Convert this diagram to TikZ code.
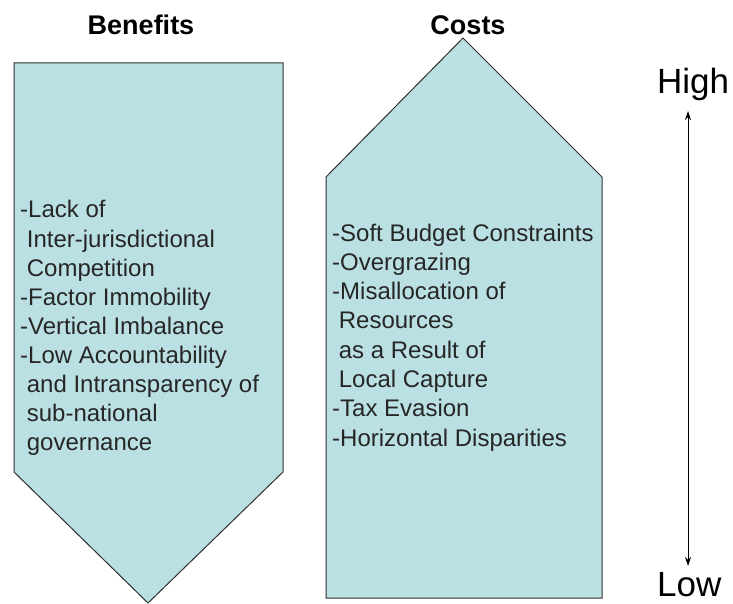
\documentclass[tikz,border=0pt]{standalone}
\usepackage{fontspec}
\setmainfont{Liberation Sans}
\usetikzlibrary{arrows.meta}
\definecolor{boxfill}{HTML}{BBE0E3}
\definecolor{boxline}{HTML}{303030}
\tikzset{
  panel/.style={fill=boxfill, draw=boxline, line width=1pt, line join=miter},
  title/.style={font=\fontsize{27}{32}\selectfont\bfseries, inner sep=0pt, anchor=base},
  item/.style={font=\fontsize{24}{29}\selectfont, inner sep=0pt, anchor=base west, text=black!85},
  scale label/.style={font=\fontsize{35}{40}\selectfont, inner sep=0pt, anchor=base west},
  scale arrow/.style={line width=1pt, {Stealth[length=9pt,width=6pt]}-{Stealth[length=9pt,width=6pt]}}
}
\begin{document}
\begin{tikzpicture}[x=1pt,y=-1pt]
\useasboundingbox[fill=white] (0,0) rectangle (733,604);
% Benefits panel (arrow pointing down)
\draw[panel] (14,63) -- (283,63) -- (283,472) -- (148,603) -- (14,472) -- cycle;
% Costs panel (arrow pointing up)
\draw[panel] (463,38) -- (602,177) -- (602,598) -- (326,598) -- (326,177) -- cycle;
% titles
\node[title] (tben) at (141,35) {Benefits};
\node[title] (tcost) at (468,35) {Costs};
% Benefits items
\foreach \t [count=\i from 0] in {-Lack of,\hspace*{0.278em}Inter-jurisdictional,\hspace*{0.278em}Competition,-Factor Immobility,-Vertical Imbalance,-Low Accountability,\hspace*{0.278em}and Intransparency of,\hspace*{0.278em}sub-national,\hspace*{0.278em}governance}
  \node[item] (b\i) at (20,218+29.05*\i) {\t};
% Costs items
\foreach \t [count=\i from 0] in {-Soft Budget Constraints,-Overgrazing,-Misallocation of,\hspace*{0.278em}Resources,\hspace*{0.278em}as a Result of,\hspace*{0.278em}Local Capture,-Tax Evasion,-Horizontal Disparities}
  \node[item] (c\i) at (332,241+29.3*\i) {\t};
% scale
\node[scale label] (high) at (657,94) {High};
\node[scale label] (low) at (657,596) {Low};
\coordinate (atop) at (688,111);
\coordinate (abot) at (688,566);
\draw[scale arrow] (abot) -- (atop);
\end{tikzpicture}
\end{document}
